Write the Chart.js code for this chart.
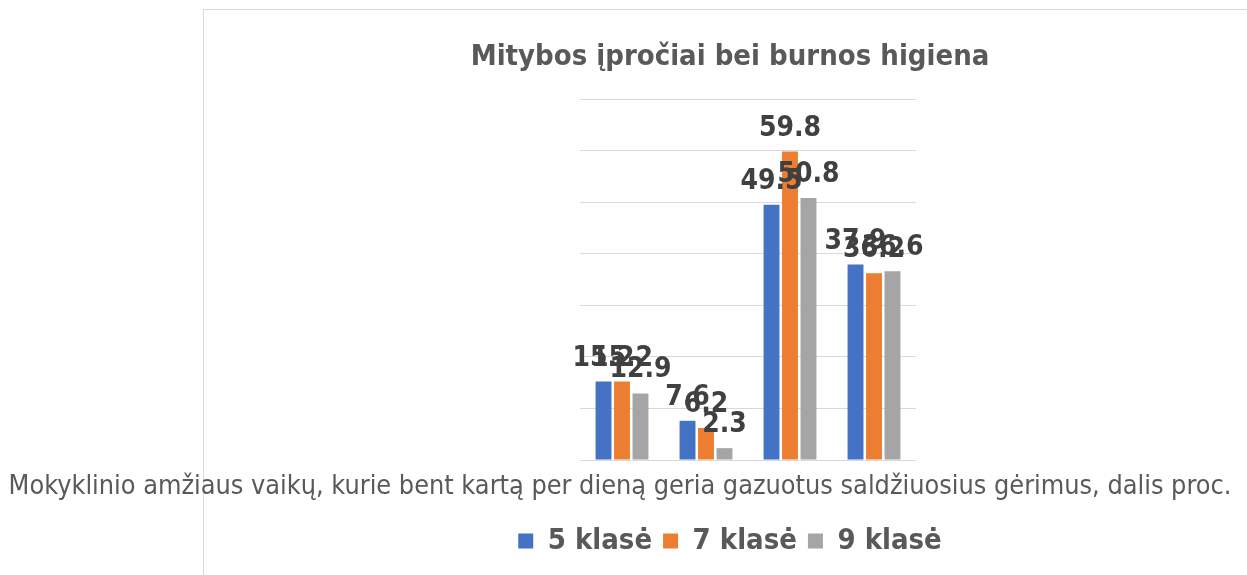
<!DOCTYPE html>
<html>
<head>
<meta charset="utf-8">
<title>Mitybos įpročiai bei burnos higiena</title>
<script src="https://cdn.jsdelivr.net/npm/chart.js@4"></script>
<style>
    body { margin: 0; background: #fff; }
    #wrap { position: relative; width: 1247px; height: 575px; overflow: hidden; }
    #frame {
        position: absolute; left: 203px; top: 9px; width: 1100px; height: 640px;
        border-left: 1.5px solid #d9d9d9; border-top: 1.5px solid #d9d9d9;
    }
    #chart { position: absolute; left: 0; top: 0; }
</style>
</head>
<body>
<div id="wrap">
    <div id="frame"></div>
    <canvas id="chart" width="1247" height="575"></canvas>
</div>
<script>
const categories = ['', '', '', ''];
const grade5 = [15.2, 7.6, 49.5, 37.9];
const grade7 = [15.2, 6.2, 59.8, 36.2];
const grade9 = [12.9, 2.3, 50.8, 36.6];
const seriesNames = ['5 klasė', '7 klasė', '9 klasė'];

const fontFamily = '"DejaVu Sans Condensed", "DejaVu Sans", sans-serif';

// value labels above each bar
const barLabels = {
    id: 'barLabels',
    afterDatasetsDraw(chart) {
        const ctx = chart.ctx;
        ctx.save();
        ctx.font = 'bold 28px ' + fontFamily;
        ctx.fillStyle = '#404040';
        ctx.textAlign = 'center';
        ctx.textBaseline = 'alphabetic';
        chart.data.datasets.forEach((ds, i) => {
            chart.getDatasetMeta(i).data.forEach((bar, j) => {
                ctx.fillText(String(ds.data[j]), bar.x, bar.y - 16);
            });
        });
        ctx.restore();
    }
};

// long axis caption, wider than the plot itself
const axisCaption = {
    id: 'axisCaption',
    afterDraw(chart, args, opts) {
        const ctx = chart.ctx;
        ctx.save();
        ctx.font = '26.8px ' + fontFamily;
        ctx.fillStyle = '#595959';
        ctx.textAlign = 'center';
        ctx.textBaseline = 'alphabetic';
        ctx.fillText(opts.text, 620, 494);
        ctx.restore();
    }
};

const ctx = document.getElementById('chart').getContext('2d');
new Chart(ctx, {
    type: 'bar',
    data: {
        labels: categories,
        datasets: [
            { label: seriesNames[0], data: grade5, backgroundColor: '#4472C4' },
            { label: seriesNames[1], data: grade7, backgroundColor: '#ED7D31' },
            { label: seriesNames[2], data: grade9, backgroundColor: '#A5A5A5' }
        ]
    },
    options: {
        responsive: false,
        animation: false,
        barPercentage: 0.86,
        categoryPercentage: 0.66,
        layout: {
            padding: { left: 213, right: 0, top: 0, bottom: 9.5 }
        },
        scales: {
            x: {
                grid: { display: false },
                border: { display: false },
                ticks: { display: false },
                afterFit: (scale) => { scale.height = 55.5; }
            },
            y: {
                min: 0,
                max: 70,
                ticks: { display: false, stepSize: 10 },
                border: { display: false },
                grid: { color: '#d9d9d9', lineWidth: 1, drawTicks: false },
                afterFit: (scale) => { scale.width = 367; }
            },
            // empty right-hand axis, only keeps the plot narrow
            yRight: {
                position: 'right',
                display: true,
                ticks: { display: false },
                border: { display: false },
                grid: { display: false },
                afterFit: (scale) => { scale.width = 331; }
            }
        },
        plugins: {
            title: {
                display: true,
                text: 'Mitybos įpročiai bei burnos higiena',
                color: '#595959',
                font: { family: fontFamily, size: 29, weight: 'bold' },
                padding: { top: 40, bottom: 24.2 }
            },
            legend: {
                position: 'bottom',
                labels: {
                    color: '#595959',
                    font: { family: fontFamily, size: 29, weight: 'bold' },
                    boxWidth: 15,
                    boxHeight: 15,
                    padding: 11
                }
            },
            tooltip: { enabled: false },
            axisCaption: {
                text: 'Mokyklinio amžiaus vaikų, kurie bent kartą per dieną geria gazuotus saldžiuosius gėrimus, dalis proc.'
            }
        }
    },
    plugins: [barLabels, axisCaption]
});
</script>
</body>
</html>
